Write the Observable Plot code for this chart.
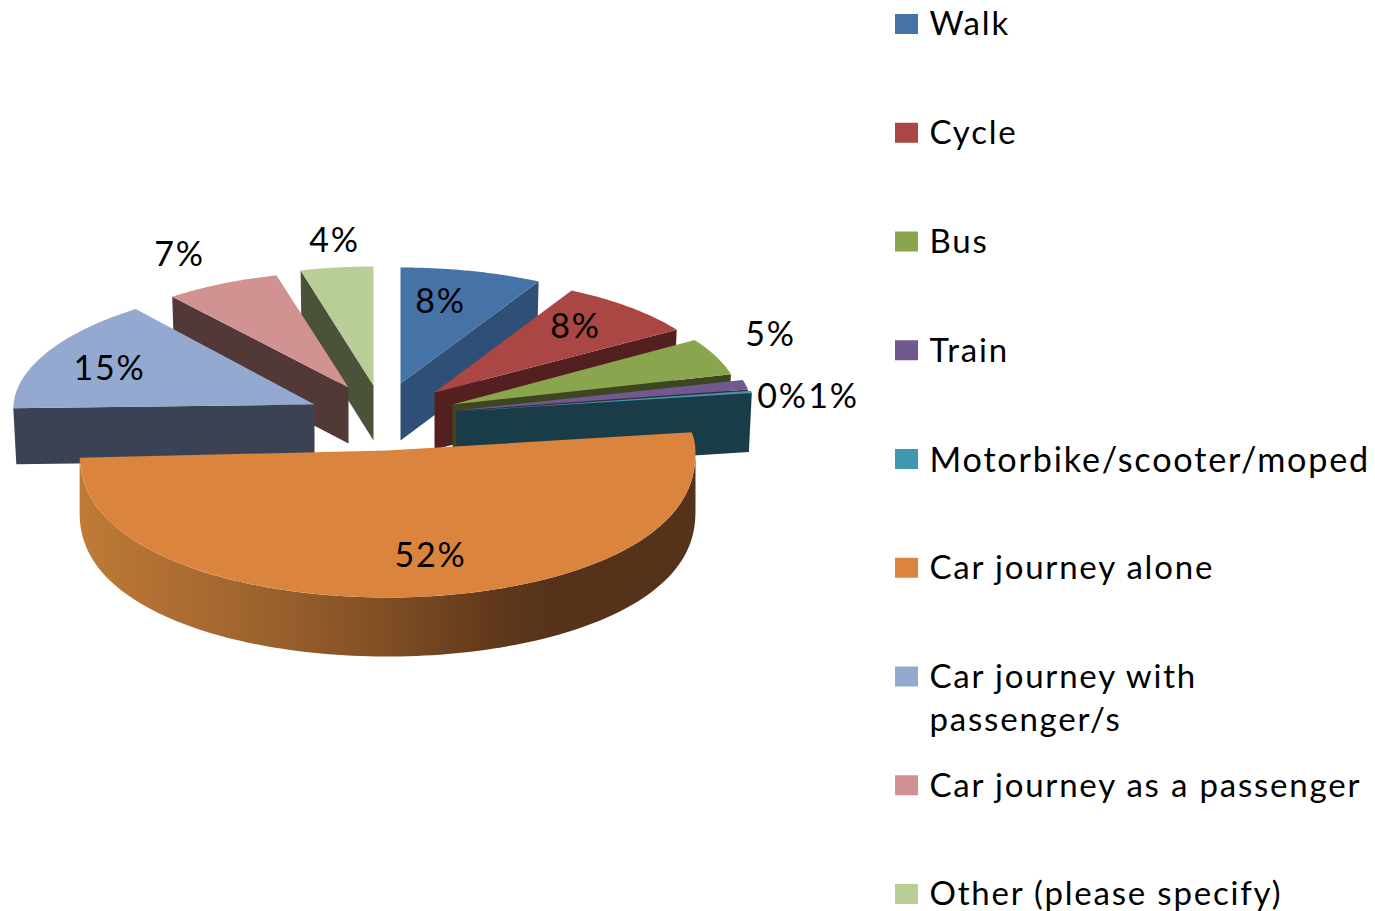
<!DOCTYPE html>
<html>
<head>
<meta charset="utf-8">
<style>html,body{margin:0;padding:0;background:#fff}svg{display:block}</style>
<script src="https://cdn.jsdelivr.net/npm/d3@7"></script>
<script src="https://cdn.jsdelivr.net/npm/@observablehq/plot@0.6"></script>
</head>
<body>
<div id="chart"></div>
<script>
// Data
const categories = ["Walk","Cycle","Bus","Train","Motorbike/scooter/moped","Car journey alone","Car journey with\npassenger/s","Car journey as a passenger","Other (please specify)"];
const shares = [7.9, 8.0, 5.0, 1.3, 0.3, 52.0, 14.8, 6.6, 4.1];
const topColors = ["#4572A7","#AA4643","#89A54E","#71588F","#4198AF","#DB843D","#93A9CF","#D19392","#B9CD96"];
const wallColors = ["#2F4F77","#54201F","#3C4621","#372B47","#1A3C49","#000000","#3A4254","#533838","#4A5338"];
const legendSizes = [33,33,33,33,34.2,33,33,33,33];

// How the exploded, perspective slices are laid out on the page
const explode = [
  {ax:400,ay:383,rx:290,ry:116,depth:57,lx:40,ly:-81},
  {ax:434,ay:392,rx:288,ry:116,depth:57,lx:141,ly:-65},
  {ax:452,ay:404,rx:288,ry:119,depth:50,lx:318,ly:-69},
  {ax:456,ay:410,rx:296,ry:120,depth:40,lx:377,ly:-13},
  {ax:456,ay:411,rx:299,ry:118,depth:59,lx:326,ly:-14},
  {ax:387,ay:450,rx:308,ry:147,ryBack:116,fuller:0.87,depth:59,lx:43,ly:106},
  {ax:314,ay:404,rx:301,ry:122,skew:0.09,depth:56,lx:-205,ly:-35},
  {ax:348,ay:387,rx:283,ry:116,depth:56,lx:-169,ly:-132},
  {ax:373,ay:385,rx:286,ry:119,depth:55,lx:-39,ly:-144}
];
const drawOrder = [8,7,6,0,1,2,3,4];
const alone = 5;
const legendRowTop = 24, legendRowStep = 108.75;
const wallTaper = 0.01;

const total = d3.sum(shares);
const cum = d3.cumsum(shares);
const slices = shares.map((v,i)=>({
  i, v, a0:(i?cum[i-1]:0)/total*2*Math.PI, a1:cum[i]/total*2*Math.PI, ...explode[i]
}));
const rim = (s,a,dy=0)=>{
  const c=Math.cos(a);
  const h = c>0 ? (s.ryBack||s.ry)*c : -s.ry*Math.pow(-c,s.fuller||1);
  return {x:s.ax+s.rx*Math.sin(a)+(s.skew||0)*h, y:s.ay-h+dy};
};
const arc = (s,a0,a1,dy=0,n=60)=>d3.range(n+1).map(k=>rim(s,a0+(a1-a0)*k/n,dy));
const topFace = s=>[{x:s.ax,y:s.ay},...arc(s,s.a0,s.a1)];
// right half shows the cut at the slice's end angle, left half the one at its start angle
const wallFace = s=>{
  const a = s.a0<Math.PI ? s.a1 : s.a0;
  const p = rim(s,a);
  return [{x:s.ax,y:s.ay},p,{x:p.x+(s.ax-p.x)*wallTaper,y:p.y+s.depth},{x:s.ax,y:s.ay+s.depth}];
};
const poly = (pts,fill)=>Plot.line(pts,{x:"x",y:"y",fill,stroke:"none",curve:"linear-closed"});

const marks = [];
for (const i of drawOrder){
  const s=slices[i];
  marks.push(poly(wallFace(s),wallColors[i]), poly(topFace(s),topColors[i]));
}
const o=slices[alone];
// the outer wall of the big slice is only seen from its widest point round the front
marks.push(poly([...arc(o,Math.PI/2,o.a1,0,120),...arc(o,Math.PI/2,o.a1,o.depth,120).reverse()],"url(#aloneSide)"));
marks.push(poly(topFace(o),topColors[alone]));

const font={fontFamily:"Lato, 'Open Sans', sans-serif",fill:"#000",fontWeight:400};
marks.push(Plot.text(slices,{
  x:s=>s.ax+s.lx,y:s=>s.ay+s.ly,text:s=>Math.round(s.v)+"%",
  textAnchor:"middle",lineAnchor:"middle",fontSize:34,...font
}));

const rows=categories.map((name,i)=>({name,i,y:legendRowTop+i*legendRowStep,size:legendSizes[i]}));
for (const r of rows){
  marks.push(Plot.rect([r],{x1:()=>895,x2:()=>918,y1:d=>d.y-10,y2:d=>d.y+10,fill:topColors[r.i]}));
}
for (const r of rows){
  marks.push(Plot.text([r],{
    x:()=>929,y:d=>d.y-20,text:"name",textAnchor:"start",lineAnchor:"top",lineHeight:1.32,fontSize:r.size,...font
  }));
}

const plot=Plot.plot({
  width:1375,height:911,margin:0,
  x:{domain:[0,1375],range:[0,1375],axis:null},
  y:{domain:[0,911],range:[0,911],axis:null},
  style:{background:"#fff",letterSpacing:"1.8px"},
  marks
});
const NS="http://www.w3.org/2000/svg";
const defs=document.createElementNS(NS,"defs");
const g=document.createElementNS(NS,"linearGradient");
g.setAttribute("id","aloneSide");g.setAttribute("x1","0");g.setAttribute("x2","1");g.setAttribute("y1","0");g.setAttribute("y2","0");
for(const [off,col] of [[0,"#BF7A36"],[0.28,"#9F642E"],[0.5,"#7F4E24"],[0.68,"#60381A"],[0.76,"#55331A"],[1,"#55331A"]]){
  const st=document.createElementNS(NS,"stop");st.setAttribute("offset",off);st.setAttribute("stop-color",col);g.appendChild(st);
}
defs.appendChild(g);plot.insertBefore(defs,plot.firstChild);
document.getElementById("chart").appendChild(plot);
</script>
</body>
</html>
